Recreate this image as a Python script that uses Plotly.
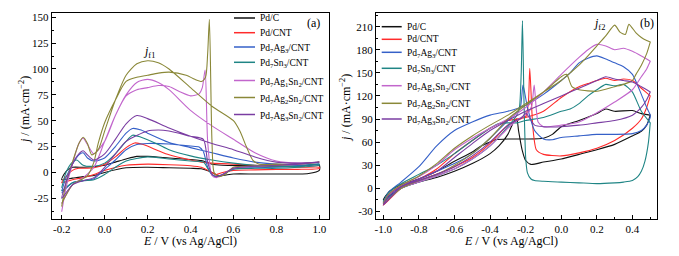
import plotly.graph_objects as go

W, H = 679, 256

# ---------------- series names / colours ----------------
names = ["Pd/C", "Pd/CNT", "Pd<sub>7</sub>Ag<sub>3</sub>/CNT", "Pd<sub>7</sub>Sn<sub>3</sub>/CNT",
         "Pd<sub>7</sub>Ag<sub>1</sub>Sn<sub>2</sub>/CNT", "Pd<sub>7</sub>Ag<sub>2</sub>Sn<sub>2</sub>/CNT",
         "Pd<sub>7</sub>Ag<sub>3</sub>Sn<sub>2</sub>/CNT"]
colors = ["#111111", "#ff2b2b", "#3560c8", "#1f8585", "#c266cc", "#8a8838", "#7a3da2"]

# ---------------- panel (a) ----------------
a_pdc_fE = [-0.2, -0.19, -0.17, -0.15, -0.1, -0.05, 0.0, 0.05, 0.1, 0.15, 0.2, 0.3, 0.4, 0.45, 0.5, 0.55, 0.7, 0.9, 1.0]
a_pdc_fj = [-7, -2, 3, 5, 5, 5.5, 7, 10, 13, 15.5, 15.5, 14, 12.5, 11.5, 8, 7, 6.5, 6, 7]
a_pdc_bE = [1.0, 0.95, 0.9, 0.8, 0.7, 0.6, 0.53, 0.5, 0.45, 0.4, 0.3, 0.2, 0.1, 0.0, -0.05, -0.1, -0.15, -0.2]
a_pdc_bj = [2, -1, -1.5, -1.5, -1.5, -1.5, -3, 0, 3.5, 4, 4.5, 5, 4.5, 0, -3, -4, -5.5, -7]

a_cnt_fE = [-0.2, -0.18, -0.15, -0.12, -0.08, -0.05, 0.0, 0.05, 0.1, 0.14, 0.18, 0.25, 0.3, 0.4, 0.45, 0.5, 0.6, 0.7, 0.8, 0.9, 1.0]
a_cnt_fj = [-10, -4, 2, 4, 4, 4.5, 8, 15, 24, 28.5, 27, 21, 17, 12, 10, 9, 8, 7, 6, 5, 5]
a_cnt_bE = [1.0, 0.9, 0.8, 0.7, 0.6, 0.55, 0.52, 0.5, 0.45, 0.4, 0.3, 0.2, 0.1, 0.0, -0.05, -0.1, -0.15, -0.2]
a_cnt_bj = [4, 3, 3, 2.5, 2, 0, -2, 0, 5, 6.5, 7.5, 8, 7, 2, -2, -5, -7, -10]

a_ag3_fE = [-0.2, -0.18, -0.15, -0.12, -0.1, -0.08, -0.05, 0.0, 0.05, 0.1, 0.13, 0.17, 0.2, 0.3, 0.4, 0.5, 0.6, 0.7, 0.8, 0.9, 1.0]
a_ag3_fj = [-18, -5, 8, 17, 19, 14, 11, 14, 25, 38, 42.5, 41, 38, 29, 24, 19, 14, 10, 8, 7, 8]
a_ag3_bE = [1.0, 0.9, 0.8, 0.7, 0.6, 0.55, 0.52, 0.5, 0.48, 0.46, 0.44, 0.4, 0.3, 0.2, 0.15, 0.1, 0.05, 0.0, -0.05, -0.1, -0.15, -0.2]
a_ag3_bj = [8, 6, 5, 4.5, 3.5, -2, -4, -2, 5, 20, 24.5, 25.5, 27.5, 28, 27, 22, 12, 3, -6, -8, -10, -20]

a_sn3_fE = [-0.2, -0.18, -0.15, -0.13, -0.1, -0.05, 0.0, 0.05, 0.1, 0.13, 0.17, 0.25, 0.3, 0.4, 0.5, 0.6, 0.7, 0.8, 0.9, 1.0]
a_sn3_fj = [-15, 0, 10, 12, 7, 6, 9, 18, 30, 36, 34, 27, 22, 16, 12, 9, 7, 6, 6, 8]
a_sn3_bE = [1.0, 0.9, 0.8, 0.7, 0.6, 0.55, 0.52, 0.5, 0.48, 0.46, 0.4, 0.3, 0.2, 0.1, 0.05, 0.0, -0.05, -0.1, -0.15, -0.2]
a_sn3_bj = [7, 5, 4, 4, 3, -2, -4, -2, 4, 10, 11, 13, 15, 11, 5, -2, -7, -8, -10, -18]

a_a1s2_fE = [-0.2, -0.18, -0.15, -0.12, -0.1, -0.08, -0.05, 0.0, 0.05, 0.1, 0.15, 0.2, 0.25, 0.3, 0.4, 0.5, 0.6, 0.7, 0.8, 0.9, 1.0]
a_a1s2_fj = [-38, -15, 8, 28, 33, 27, 18, 30, 55, 75, 87, 90, 87, 80, 60, 45, 32, 19, 11, 9, 10]
a_a1s2_bE = [1.0, 0.9, 0.8, 0.7, 0.6, 0.55, 0.52, 0.5, 0.48, 0.468, 0.455, 0.44, 0.4, 0.35, 0.3, 0.25, 0.2, 0.15, 0.1, 0.05, 0.0, -0.05, -0.1, -0.15, -0.2]
a_a1s2_bj = [10, 8, 7, 6, 4, -2, -5, -3, 30, 99, 82, 76, 74, 78, 83, 84, 82, 80, 74, 55, 30, 5, -5, -12, -30]

a_a2s2_fE = [-0.2, -0.18, -0.15, -0.12, -0.1, -0.08, -0.06, -0.03, 0.0, 0.05, 0.1, 0.15, 0.2, 0.25, 0.3, 0.4, 0.5, 0.6, 0.63, 0.66, 0.69, 0.72, 0.8, 0.9, 1.0]
a_a2s2_fj = [-33, -10, 10, 28, 34, 28, 17, 22, 40, 70, 94, 105, 108, 106, 100, 82, 64, 50, 40, 25, 12, 8, 8, 8, 10]
a_a2s2_bE = [1.0, 0.9, 0.8, 0.7, 0.6, 0.56, 0.53, 0.51, 0.5, 0.488, 0.48, 0.47, 0.453, 0.42, 0.38, 0.3, 0.25, 0.2, 0.15, 0.1, 0.05, 0.0, -0.03, -0.05, -0.08, -0.1, -0.15, -0.2]
a_a2s2_bj = [10, 8, 7, 6, 5, -2, -4, 0, 30, 148, 115, 92, 88, 90, 94, 97, 96, 94, 92, 88, 70, 48, 28, 10, -3, -6, -12, -30]

a_a3s2_fE = [-0.2, -0.18, -0.15, -0.12, -0.1, -0.08, -0.05, 0.0, 0.05, 0.1, 0.15, 0.2, 0.3, 0.4, 0.5, 0.6, 0.7, 0.8, 0.9, 1.0]
a_a3s2_fj = [-25, -10, 8, 18, 21, 17, 12, 18, 32, 47, 55, 52, 43, 35, 28, 22, 15, 10, 9, 10]
a_a3s2_bE = [1.0, 0.9, 0.8, 0.7, 0.6, 0.55, 0.52, 0.5, 0.48, 0.46, 0.4, 0.3, 0.25, 0.2, 0.1, 0.05, 0.0, -0.05, -0.1, -0.15, -0.2]
a_a3s2_bj = [10, 8, 7, 6, 4, -2, -4, -2, 10, 32, 35, 40, 41, 40, 30, 18, 5, -5, -8, -12, -25]

# ---------------- panel (b) ----------------
b_pdc_uE = [-1.0, -0.97, -0.9, -0.8, -0.7, -0.6, -0.5, -0.45, -0.4, -0.37, -0.3, -0.2, -0.1, -0.05, 0.0, 0.1, 0.2, 0.25, 0.3, 0.4, 0.45, 0.5]
b_pdc_uj = [-15, -5, 5, 12, 22, 35, 47, 55, 60, 63, 64, 64, 65, 70, 80, 88, 97, 103, 100, 101, 97, 95]
b_pdc_lE = [0.5, 0.48, 0.45, 0.4, 0.3, 0.2, 0.1, 0.0, -0.1, -0.17, -0.2, -0.22, -0.24, -0.25, -0.27, -0.3, -0.35, -0.4, -0.5, -0.6, -0.7, -0.8, -0.9, -1.0]
b_pdc_lj = [95, 82, 74, 68, 57, 50, 44, 38, 34, 31, 36, 50, 75, 90, 85, 70, 55, 45, 32, 22, 14, 8, 0, -15]

b_cnt_uE = [-1.0, -0.97, -0.9, -0.8, -0.7, -0.6, -0.5, -0.4, -0.3, -0.25, -0.2, -0.1, 0.0, 0.1, 0.15, 0.2, 0.25, 0.3, 0.35, 0.4, 0.45, 0.5]
b_cnt_uj = [-22, -8, 3, 12, 25, 45, 62, 78, 88, 90, 92, 100, 118, 132, 136, 140, 143, 140, 142, 140, 130, 120]
b_cnt_lE = [0.5, 0.48, 0.45, 0.4, 0.3, 0.2, 0.1, 0.0, -0.1, -0.14, -0.16, -0.177, -0.185, -0.2, -0.22, -0.3, -0.4, -0.5, -0.6, -0.7, -0.8, -0.9, -1.0]
b_cnt_lj = [120, 105, 90, 78, 62, 52, 46, 42, 44, 50, 80, 156, 110, 93, 91, 82, 58, 40, 28, 18, 10, 0, -22]

b_ag3_uE = [-1.0, -0.97, -0.9, -0.8, -0.7, -0.6, -0.5, -0.4, -0.3, -0.2, -0.1, 0.0, 0.05, 0.1, 0.15, 0.2, 0.25, 0.3, 0.35, 0.4, 0.45, 0.48, 0.5]
b_ag3_uj = [-18, -5, 8, 28, 55, 75, 86, 95, 100, 108, 122, 140, 150, 163, 169, 172, 168, 163, 158, 148, 122, 105, 95]
b_ag3_lE = [0.5, 0.48, 0.45, 0.4, 0.3, 0.2, 0.1, 0.0, -0.05, -0.1, -0.15, -0.19, -0.215, -0.23, -0.26, -0.3, -0.4, -0.5, -0.6, -0.7, -0.8, -0.9, -1.0]
b_ag3_lj = [92, 82, 75, 71, 70, 70, 68, 66, 63, 64, 75, 105, 134, 105, 96, 88, 65, 45, 32, 22, 12, 2, -18]

b_sn3_uE = [-1.0, -0.97, -0.9, -0.8, -0.7, -0.6, -0.5, -0.4, -0.35, -0.3, -0.25, -0.2, -0.1, 0.0, 0.05, 0.1, 0.15, 0.2, 0.25, 0.3, 0.35, 0.4, 0.45, 0.5]
b_sn3_uj = [-18, -6, 6, 18, 30, 45, 62, 78, 84, 85, 85, 88, 92, 100, 103, 110, 120, 128, 135, 133, 135, 125, 100, 85]
b_sn3_lE = [0.5, 0.49, 0.47, 0.45, 0.43, 0.4, 0.35, 0.3, 0.2, 0.1, 0.0, -0.1, -0.15, -0.17, -0.19, -0.2, -0.21, -0.218, -0.225, -0.235, -0.25, -0.3, -0.4, -0.5, -0.6, -0.7, -0.8, -0.9, -1.0]
b_sn3_lj = [85, 60, 35, 22, 15, 10, 8, 7, 6, 7, 8, 9, 10, 12, 20, 40, 120, 218, 150, 105, 95, 80, 55, 38, 25, 16, 8, 0, -18]

b_a1s2_uE = [-1.0, -0.97, -0.9, -0.8, -0.7, -0.6, -0.5, -0.4, -0.3, -0.2, -0.1, 0.0, 0.1, 0.15, 0.2, 0.25, 0.3, 0.35, 0.4, 0.45, 0.48, 0.5]
b_a1s2_uj = [-20, -8, 4, 15, 30, 50, 65, 78, 90, 105, 125, 148, 170, 180, 187, 185, 180, 182, 178, 172, 168, 165]
b_a1s2_lE = [0.5, 0.48, 0.45, 0.4, 0.3, 0.2, 0.1, 0.0, -0.1, -0.13, -0.152, -0.165, -0.18, -0.2, -0.25, -0.3, -0.4, -0.5, -0.6, -0.7, -0.8, -0.9, -1.0]
b_a1s2_lj = [165, 155, 145, 128, 112, 98, 86, 82, 80, 86, 134, 108, 100, 96, 88, 78, 55, 38, 25, 16, 8, 0, -20]

b_a2s2_uE = [-1.0, -0.97, -0.9, -0.8, -0.7, -0.6, -0.5, -0.4, -0.3, -0.2, -0.1, 0.0, 0.05, 0.1, 0.15, 0.2, 0.25, 0.3, 0.33, 0.36, 0.38, 0.42, 0.45, 0.48, 0.5]
b_a2s2_uj = [-20, -8, 4, 16, 32, 52, 68, 82, 95, 110, 125, 140, 150, 160, 172, 185, 198, 212, 203, 200, 213, 202, 196, 192, 190]
b_a2s2_lE = [0.5, 0.48, 0.45, 0.42, 0.4, 0.35, 0.3, 0.2, 0.1, 0.06, 0.03, 0.0, -0.05, -0.1, -0.2, -0.3, -0.4, -0.5, -0.6, -0.7, -0.8, -0.9, -1.0]
b_a2s2_lj = [190, 175, 160, 148, 140, 135, 132, 126, 128, 132, 148, 145, 135, 125, 108, 90, 65, 45, 30, 18, 10, 0, -20]

b_a3s2_uE = [-1.0, -0.97, -0.9, -0.8, -0.7, -0.6, -0.5, -0.4, -0.3, -0.2, -0.1, 0.0, 0.1, 0.2, 0.25, 0.3, 0.35, 0.4, 0.45, 0.48, 0.5]
b_a3s2_uj = [-22, -10, 2, 12, 22, 40, 58, 75, 88, 100, 110, 120, 130, 140, 145, 142, 140, 138, 132, 128, 125]
b_a3s2_lE = [0.5, 0.48, 0.45, 0.4, 0.3, 0.2, 0.1, 0.0, -0.1, -0.15, -0.18, -0.2, -0.22, -0.3, -0.4, -0.5, -0.6, -0.7, -0.8, -0.9, -1.0]
b_a3s2_lj = [125, 115, 105, 95, 88, 85, 82, 80, 80, 82, 92, 98, 92, 82, 60, 42, 28, 18, 10, 2, -22]

# ---------------- axis ticks ----------------
a_xticks = [-0.2, 0.0, 0.2, 0.4, 0.6, 0.8, 1.0]
a_xlabels = ["-0.2", "0.0", "0.2", "0.4", "0.6", "0.8", "1.0"]
a_yticks = [-25, 0, 25, 50, 75, 100, 125, 150]
a_ylabels = ["-25", "0", "25", "50", "75", "100", "125", "150"]
b_xticks = [-1.0, -0.8, -0.6, -0.4, -0.2, 0.0, 0.2, 0.4]
b_xlabels = ["-1.0", "-0.8", "-0.6", "-0.4", "-0.2", "0.0", "0.2", "0.4"]
b_yticks = [-30, 0, 30, 60, 90, 120, 150, 180, 210]
b_ylabels = ["-30", "0", "30", "60", "90", "120", "150", "180", "210"]

a_loops = [(a_pdc_fE, a_pdc_fj, a_pdc_bE, a_pdc_bj), (a_cnt_fE, a_cnt_fj, a_cnt_bE, a_cnt_bj),
           (a_ag3_fE, a_ag3_fj, a_ag3_bE, a_ag3_bj), (a_sn3_fE, a_sn3_fj, a_sn3_bE, a_sn3_bj),
           (a_a1s2_fE, a_a1s2_fj, a_a1s2_bE, a_a1s2_bj), (a_a2s2_fE, a_a2s2_fj, a_a2s2_bE, a_a2s2_bj),
           (a_a3s2_fE, a_a3s2_fj, a_a3s2_bE, a_a3s2_bj)]
b_loops = [(b_pdc_uE, b_pdc_uj, b_pdc_lE, b_pdc_lj), (b_cnt_uE, b_cnt_uj, b_cnt_lE, b_cnt_lj),
           (b_ag3_uE, b_ag3_uj, b_ag3_lE, b_ag3_lj), (b_sn3_uE, b_sn3_uj, b_sn3_lE, b_sn3_lj),
           (b_a1s2_uE, b_a1s2_uj, b_a1s2_lE, b_a1s2_lj), (b_a2s2_uE, b_a2s2_uj, b_a2s2_lE, b_a2s2_lj),
           (b_a3s2_uE, b_a3s2_uj, b_a3s2_lE, b_a3s2_lj)]

FONT = "Liberation Serif, Times New Roman, serif"

fig = go.Figure()
for i, (e1, j1, e2, j2) in enumerate(a_loops):
    fig.add_trace(go.Scatter(x=e1 + e2, y=j1 + j2, mode="lines", name=names[i], showlegend=False,
                             line=dict(color=colors[i], width=1.1, shape="spline", smoothing=0.7),
                             xaxis="x", yaxis="y"))
for i, (e1, j1, e2, j2) in enumerate(b_loops):
    fig.add_trace(go.Scatter(x=e1 + e2, y=j1 + j2, mode="lines", name=names[i], showlegend=False,
                             line=dict(color=colors[i], width=1.1, shape="spline", smoothing=0.6),
                             xaxis="x2", yaxis="y2"))


def fx(px):
    return px / W


def fy(py):
    return 1 - py / H


axis_common = dict(showline=True, linecolor="black", linewidth=1, mirror=True, ticks="inside",
                   ticklen=4, tickwidth=1, tickcolor="black", showgrid=False, zeroline=False,
                   tickfont=dict(family=FONT, size=11, color="black"), automargin=False,
                   tickmode="array")

fig.update_layout(
    width=W, height=H, margin=dict(l=0, r=0, t=0, b=0), paper_bgcolor="white", plot_bgcolor="white",
    showlegend=False,
    xaxis=dict(domain=[fx(51.7), fx(329.3)], range=[-0.2466, 1.0466], tickvals=a_xticks, ticktext=a_xlabels,
               minor=dict(tickmode="linear", tick0=-0.2, dtick=0.1, ticks="inside", ticklen=2, tickcolor="black"),
               anchor="y", **axis_common),
    yaxis=dict(domain=[fy(219), fy(12.7)], range=[-45, 154.4], tickvals=a_yticks, ticktext=a_ylabels,
               minor=dict(tickmode="linear", tick0=0, dtick=12.5, ticks="inside", ticklen=2, tickcolor="black"),
               anchor="x", **axis_common),
    xaxis2=dict(domain=[fx(376), fx(657)], range=[-1.041, 0.538], tickvals=b_xticks, ticktext=b_xlabels,
                minor=dict(tickmode="linear", tick0=-1.0, dtick=0.1, ticks="inside", ticklen=2, tickcolor="black"),
                anchor="y2", **axis_common),
    yaxis2=dict(domain=[fy(219), fy(13.3)], range=[-40, 227.4], tickvals=b_yticks, ticktext=b_ylabels,
                minor=dict(tickmode="linear", tick0=0, dtick=15, ticks="inside", ticklen=2, tickcolor="black"),
                anchor="x2", **axis_common),
)

ann = []
tfont = dict(family=FONT, size=12, color="black")
# axis titles
ann.append(dict(text="<i>E</i> / V (vs Ag/AgCl)", x=fx(190), y=fy(241), xref="paper", yref="paper",
                showarrow=False, font=tfont, xanchor="center", yanchor="middle"))
ann.append(dict(text="<i>E</i> / V (vs Ag/AgCl)", x=fx(511), y=fy(241), xref="paper", yref="paper",
                showarrow=False, font=tfont, xanchor="center", yanchor="middle"))
ann.append(dict(text="<i>j</i> / (mA·cm<sup>−2</sup>)", x=fx(24), y=fy(110), xref="paper", yref="paper",
                showarrow=False, font=tfont, textangle=-90, xanchor="center", yanchor="middle"))
ann.append(dict(text="<i>j</i> / (mA·cm<sup>−2</sup>)", x=fx(345), y=fy(108), xref="paper", yref="paper",
                showarrow=False, font=tfont, textangle=-90, xanchor="center", yanchor="middle"))
# panel labels
ann.append(dict(text="(a)", x=fx(313), y=fy(23), xref="paper", yref="paper", showarrow=False,
                font=tfont, xanchor="center", yanchor="middle"))
ann.append(dict(text="(b)", x=fx(647), y=fy(23), xref="paper", yref="paper", showarrow=False,
                font=tfont, xanchor="center", yanchor="middle"))
ann.append(dict(text="<i>j</i><sub>f1</sub>", x=fx(149), y=fy(52), xref="paper", yref="paper", showarrow=False,
                font=tfont, xanchor="center", yanchor="middle"))
ann.append(dict(text="<i>j</i><sub>f2</sub>", x=fx(599), y=fy(24), xref="paper", yref="paper", showarrow=False,
                font=tfont, xanchor="center", yanchor="middle"))

# manual legends
a_leg_y = [18, 32.7, 47, 62.3, 80.5, 97.5, 114.5]
b_leg_y = [26.7, 39.3, 52.3, 68.3, 85.7, 103.3, 119]
shapes = []
lfont = dict(family=FONT, size=9.5, color="black")
for i, nm in enumerate(names):
    for (x0, x1, xt, ys) in [(234, 255, 258, a_leg_y), (381.7, 401.7, 405, b_leg_y)]:
        shapes.append(dict(type="line", xref="paper", yref="paper", x0=fx(x0), x1=fx(x1),
                           y0=fy(ys[i]), y1=fy(ys[i]), line=dict(color=colors[i], width=1.5)))
        ann.append(dict(text=nm, x=fx(xt), y=fy(ys[i] + (1.5 if "<sub>" in nm else 0)), xref="paper", yref="paper",
                        showarrow=False, font=lfont, xanchor="left", yanchor="middle"))

fig.update_layout(annotations=ann, shapes=shapes)
fig.write_html("out.html", config={"displayModeBar": False},
               post_script="document.body.style.margin='0';document.body.style.overflow='hidden';")
